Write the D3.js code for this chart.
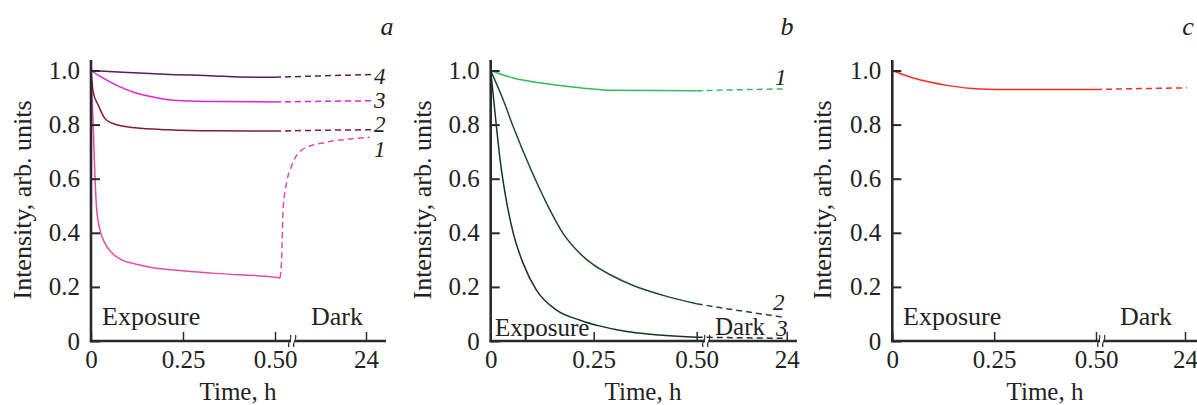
<!DOCTYPE html>
<html>
<head>
<meta charset="utf-8">
<script src="https://cdn.jsdelivr.net/npm/d3@7"></script>
<style>
  html, body { margin: 0; padding: 0; background: #fff; }
  svg { display: block; }
  svg text { font-family: "Liberation Serif", "Times New Roman", Tinos, "DejaVu Serif", "Noto Serif", FreeSerif, "Nimbus Roman", serif !important; fill: #222; }
</style>
</head>
<body>
<svg id="chart" width="1197" height="405"></svg>
<script>
// ---------------- data ----------------
const timeTicks = [0, 0.25, 0.5, 24];
const timeTickLabels = ["0", "0.25", "0.50", "24"];
const intensityTicks = [0, 0.2, 0.4, 0.6, 0.8, 1.0];
const intensityTickLabels = ["0", "0.2", "0.4", "0.6", "0.8", "1.0"];
const panelLetters = ["a", "b", "c"];
const xTitle = "Time, h";
const yTitle = "Intensity, arb. units";
const phaseLabels = ["Exposure", "Dark"];

// panel a  [time (h), intensity]
const a1Exposure = [[0,1.0],[0.006,0.797],[0.011,0.598],[0.0154,0.487],[0.0245,0.41],[0.038,0.361],[0.056,0.327],[0.083,0.30],[0.12,0.285],[0.165,0.272],[0.25,0.26],[0.337,0.25],[0.5,0.236],[1.8,0.233]];
const a1Dark     = [[1.8,0.233],[2.2,0.30],[2.6,0.487],[3.5,0.586],[4.8,0.648],[7.8,0.71],[13.8,0.735],[20,0.747],[25,0.753]];
const a2Exposure = [[0,1.0],[0.006,0.92],[0.02,0.871],[0.038,0.822],[0.056,0.806],[0.12,0.788],[0.21,0.781],[0.337,0.777],[0.5,0.776]];
const a2Dark     = [[0.5,0.776],[12,0.779],[25.8,0.781]];
const a3Exposure = [[0,1.0],[0.025,0.978],[0.07,0.945],[0.12,0.918],[0.165,0.903],[0.2,0.894],[0.25,0.888],[0.337,0.885],[0.5,0.884]];
const a3Dark     = [[0.5,0.884],[12,0.886],[25.8,0.888]];
const a4Exposure = [[0,1.0],[0.1,0.993],[0.2,0.986],[0.337,0.98],[0.4,0.976],[0.5,0.975]];
const a4Dark     = [[0.5,0.975],[12,0.98],[25.8,0.985]];

// panel b
const b1Exposure = [[0,1.0],[0.055,0.972],[0.136,0.951],[0.217,0.936],[0.298,0.927],[0.5,0.925]];
const b1Dark     = [[0.5,0.925],[12,0.929],[23.1,0.932]];
const b2Exposure = [[0,1.0],[0.031,0.889],[0.055,0.791],[0.095,0.643],[0.136,0.508],[0.176,0.397],[0.217,0.323],[0.249,0.282],[0.29,0.245],[0.346,0.205],[0.427,0.165],[0.5,0.138]];
const b2Dark     = [[0.5,0.138],[8,0.12],[16,0.103],[23.1,0.088]];
const b3Exposure = [[0,1.0],[0.014,0.791],[0.023,0.668],[0.035,0.545],[0.055,0.397],[0.079,0.286],[0.111,0.188],[0.16,0.114],[0.217,0.077],[0.266,0.055],[0.33,0.035],[0.387,0.025],[0.5,0.014]];
const b3Dark     = [[0.5,0.014],[12,0.012],[23.1,0.01]];

// panel c
const c1Exposure = [[0,1.0],[0.052,0.972],[0.134,0.945],[0.215,0.932],[0.297,0.93],[0.5,0.93]];
const c1Dark     = [[0.5,0.93],[12,0.933],[24.45,0.936]];

// ---------------- layout ----------------
const panels = [
  { letter: panelLetters[0], x0: 91, x05: 275, x24: 366, xEnd: 386, brk: 293,
    yTitleX: 22, xTitleX: 238, letterX: 387,
    expo: { x: 102, y: 325, size: 26 }, dark: { x: 311, y: 325, size: 26 },
    series: [
      { exp: a1Exposure, dark: a1Dark, color: "#e64ba2" },
      { exp: a2Exposure, dark: a2Dark, color: "#85193f" },
      { exp: a3Exposure, dark: a3Dark, color: "#e521e0" },
      { exp: a4Exposure, dark: a4Dark, color: "#55205a" }
    ],
    labels: [ {t: "4", x: 374, y: 76}, {t: "3", x: 374, y: 100}, {t: "2", x: 374, y: 124}, {t: "1", x: 374, y: 149} ]
  },
  { letter: panelLetters[1], x0: 490.7, x05: 696.7, x24: 786.7, xEnd: 797, brk: 707,
    yTitleX: 422, xTitleX: 643, letterX: 787,
    expo: { x: 495, y: 336, size: 25 }, dark: { x: 715, y: 335, size: 25 },
    series: [
      { exp: b1Exposure, dark: b1Dark, color: "#2cc05a" },
      { exp: b2Exposure, dark: b2Dark, color: "#1d4d2a" },
      { exp: b3Exposure, dark: b3Dark, color: "#123820" }
    ],
    labels: [ {t: "1", x: 775, y: 77}, {t: "2", x: 773, y: 302}, {t: "3", x: 776, y: 328} ]
  },
  { letter: panelLetters[2], x0: 892.3, x05: 1096, x24: 1185, xEnd: 1197, brk: 1102,
    yTitleX: 822, xTitleX: 1045, letterX: 1188,
    expo: { x: 903, y: 325, size: 26 }, dark: { x: 1120, y: 325, size: 26 },
    series: [
      { exp: c1Exposure, dark: c1Dark, color: "#ff2a2a" }
    ],
    labels: []
  }
];

const yBottom = 341, yTop = 70.5, axisTop = 60;
const axisColor = "#2a2a2a";

const svg = d3.select("#chart");

panels.forEach(p => {
  const g = svg.append("g");
  const x = d3.scaleLinear().domain([0, 0.5, 24]).range([p.x0, p.x05, p.x24]);
  const y = d3.scaleLinear().domain([0, 1]).range([yBottom, yTop]);

  const line = d3.line().x(d => x(d[0])).y(d => y(d[1])).curve(d3.curveMonotoneX);

  // curves
  p.series.forEach(s => {
    g.append("path").attr("d", line(s.exp)).attr("fill", "none")
      .attr("stroke", s.color).attr("stroke-width", 1.5);
    g.append("path").attr("d", line(s.dark)).attr("fill", "none")
      .attr("stroke", s.color).attr("stroke-width", 1.5).attr("stroke-dasharray", "6,4");
  });

  // x axis ticks + labels
  const xAxis = d3.axisBottom(x).tickValues(timeTicks)
    .tickFormat((d, i) => timeTickLabels[i]).tickSizeInner(-9).tickSizeOuter(0).tickPadding(9);
  const gx = g.append("g").attr("transform", `translate(0,${yBottom})`).call(xAxis);
  gx.attr("font-family", null);
  gx.select(".domain").remove();
  gx.selectAll(".tick line").attr("stroke", axisColor).attr("stroke-width", 1.5);
  gx.selectAll(".tick text").attr("font-size", 25).attr("fill", "#222");

  // y axis
  const yAxis = d3.axisLeft(y).tickValues(intensityTicks)
    .tickFormat((d, i) => intensityTickLabels[i]).tickSizeInner(-9).tickSizeOuter(0).tickPadding(11);
  const gy = g.append("g").attr("transform", `translate(${p.x0},0)`).call(yAxis);
  gy.attr("font-family", null);
  gy.select(".domain").remove();
  gy.selectAll(".tick line").attr("stroke", axisColor).attr("stroke-width", 2);
  gy.selectAll(".tick text").attr("font-size", 25).attr("fill", "#222");

  // axis lines
  g.append("line").attr("x1", p.x0).attr("x2", p.x0).attr("y1", axisTop).attr("y2", yBottom + 1.2)
    .attr("stroke", axisColor).attr("stroke-width", 2.6);
  g.append("line").attr("x1", p.x0 - 1.2).attr("x2", p.xEnd).attr("y1", yBottom).attr("y2", yBottom)
    .attr("stroke", axisColor).attr("stroke-width", 2.6);

  // break marks
  g.append("rect").attr("x", p.brk - 2).attr("y", yBottom - 3).attr("width", 4).attr("height", 6).attr("fill", "#fff");
  [-2.5, 2.5].forEach(off => {
    const bx = p.brk + off;
    g.append("path")
      .attr("d", `M${bx - 1.5},${yBottom + 6} C${bx - 4},${yBottom + 2} ${bx + 2},${yBottom - 1} ${bx},${yBottom - 6}`)
      .attr("fill", "none").attr("stroke", axisColor).attr("stroke-width", 1.1);
  });

  // titles
  g.append("text").attr("x", p.xTitleX).attr("y", 400).attr("text-anchor", "middle")
    .attr("font-size", 25).text(xTitle);
  g.append("text").attr("transform", `translate(${p.yTitleX},200) rotate(-90)`)
    .attr("text-anchor", "middle").attr("dominant-baseline", "central")
    .attr("font-size", 26).text(yTitle);

  g.append("text").attr("x", p.letterX).attr("y", 35).attr("text-anchor", "middle")
    .attr("font-size", 26).attr("font-style", "italic").text(p.letter);

  g.append("text").attr("x", p.expo.x).attr("y", p.expo.y).attr("font-size", p.expo.size).text(phaseLabels[0]);
  g.append("text").attr("x", p.dark.x).attr("y", p.dark.y).attr("font-size", p.dark.size).text(phaseLabels[1]);

  p.labels.forEach(l => {
    g.append("text").attr("x", l.x).attr("y", l.y).attr("dominant-baseline", "central")
      .attr("font-size", 23).attr("font-style", "italic").text(l.t);
  });
});
</script>
</body>
</html>
